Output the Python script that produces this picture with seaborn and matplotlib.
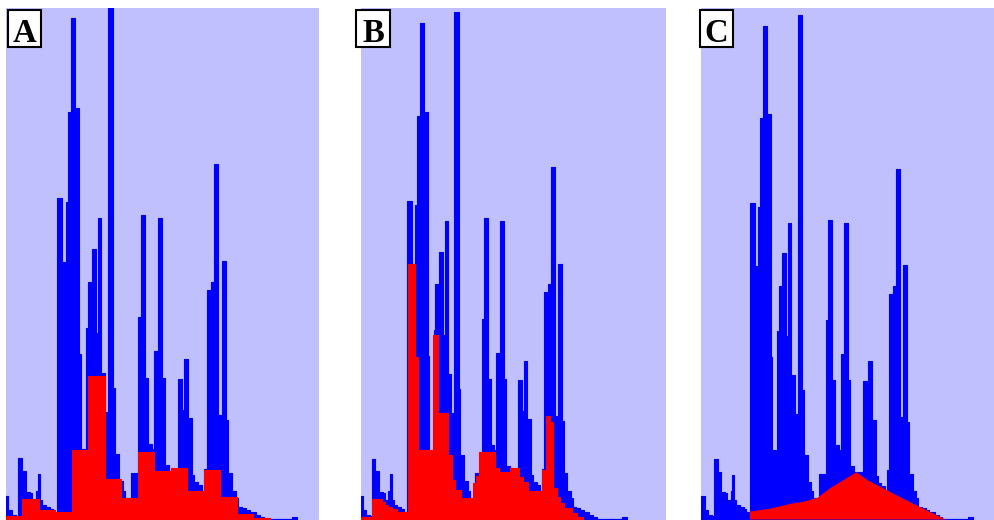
import numpy as np
import pandas as pd
import matplotlib
matplotlib.use("Agg")
import matplotlib.pyplot as plt
import matplotlib.patches as patches
import seaborn as sns

# --- 1. 全局参数 ---
BG_COLOR = '#c0c0ff'
BLUE = '#0000ff'
RED = '#ff0000'
FIG_W, FIG_H, DPI = 995, 520, 100
LABEL_FONT_SIZE = 23.6

# --- 2. 数据 (分箱边界 + 每个分箱高度) ---
blue_edges = [-2, 2, 6, 10, 12, 16, 20, 24, 26, 30, 32, 34, 36, 40, 44, 47, 51,
              56, 59.7, 61.7, 65.3, 69.3, 73, 75, 79.7, 81.7, 85.7, 89.7, 91.7,
              95, 99, 102.3, 107, 109, 113, 117, 119, 125, 132.3, 135, 139,
              142.3, 146.3, 148.3, 152.3, 156.3, 159, 163, 172.3, 176.3, 178.3,
              182.3, 186.3, 188.3, 192.3, 196.3, 198.3, 201, 205, 208, 212, 216,
              220, 222, 226, 230, 232, 236, 240, 244, 250, 254, 258, 285.7, 291.3]
blue_heights = [23, 9, 4, 3, 61, 48, 27, 26, 19, 28, 45, 19, 14, 12, 10, 7,
                321, 257, 317, 407, 501, 411, 165, 70, 191, 237, 270, 186, 301,
                146, 107, 512, 131, 65, 38, 28, 21, 46, 202, 304, 141, 75, 70,
                168, 301, 141, 54, 48, 140, 109, 160, 101, 44, 37, 34, 28, 50,
                229, 237, 355, 104, 258, 99, 46, 28, 21, 12, 11, 9, 7, 4, 2, 0, 2.5]

red_a_edges = [0, 16.5, 33, 49.5, 66, 82.5, 99, 115.5, 132, 148.5, 165, 181.5,
               198, 214.5, 231, 247.5, 264]
red_a_heights = [3, 20, 9, 7, 69, 143, 40, 21, 67, 48, 51, 28, 49, 22, 5, 1]

red_b_edges = [0, 11.9, 23.5, 26.5, 30.1, 34.5, 39.3, 52.0, 59.3, 62.9, 79.3,
               84.1, 95.1, 99.5, 103.1, 109.6, 123.1, 126.1, 129.7, 146.8, 151.5,
               163.3, 173.4, 177.8, 183.3, 197.9, 202.6, 207.0, 210.0, 214.3,
               218.0, 222.3, 230.7, 236.2, 243.4]
red_b_heights = [2, 20, 17, 14, 12, 10, 7, 257, 164, 70, 186, 107, 65, 39, 29,
                 21, 36, 43, 68, 52, 47, 52, 42, 37, 28, 49, 104, 98, 31, 22,
                 16, 11, 6, 2]

red_c_x = [50.1, 50.1, 72.4, 93.9, 107.9, 122.9, 136.9, 151.0, 165.0, 176.8,
           198.3, 219.8, 237.0, 258.5, 261.8]
red_c_h = [0, 8, 11, 16, 18, 22, 32, 40, 48, 40, 29.5, 19, 11, 1, 0]

panel_labels = ['A', 'B', 'C']

# --- 3. 面板布局 (像素) 与坐标范围 ---
PANEL_BOX = [(6, 313), (361, 305), (701, 294)]      # left, width
PANEL_TOP = 8
PANEL_XLIM = [(0, 313), (0.2, 334), (-1.9, 314.6)]
PANEL_YLIM = [(-1, 511), (-1, 516), (-1, 519)]
LABEL_BOX = [(8, 10, 33, 37), (356, 10, 34, 37), (700, 10, 33, 37)]  # x, y, w, h


def draw_hist(ax, edges, heights, color):
    edges = [float(e) for e in edges]
    centers = [(a + b) / 2 for a, b in zip(edges[:-1], edges[1:])]
    df = pd.DataFrame({'x': centers, 'w': [float(h) for h in heights]})
    sns.histplot(data=df, x='x', weights='w', bins=edges, element='step',
                 fill=True, color=color, alpha=1.0, edgecolor=color,
                 linewidth=0.8, ax=ax)


fig = plt.figure(figsize=(FIG_W / DPI, FIG_H / DPI), dpi=DPI)
fig.patch.set_facecolor('white')

axes = []
for (left, width) in PANEL_BOX:
    ax = fig.add_axes([left / FIG_W, 0, width / FIG_W, (FIG_H - PANEL_TOP) / FIG_H])
    ax.set_facecolor(BG_COLOR)
    axes.append(ax)

# --- 4. 绘图 ---
for ax in axes:
    draw_hist(ax, blue_edges, blue_heights, BLUE)

draw_hist(axes[0], red_a_edges, red_a_heights, RED)
draw_hist(axes[1], red_b_edges, red_b_heights, RED)
axes[2].fill_between(red_c_x, red_c_h, color=RED, linewidth=0)

for i, ax in enumerate(axes):
    ax.set_xlim(*PANEL_XLIM[i])
    ax.set_ylim(*PANEL_YLIM[i])
    ax.set_xticks([])
    ax.set_yticks([])
    ax.set_xlabel('')
    ax.set_ylabel('')
    for sp in ax.spines.values():
        sp.set_visible(False)

# --- 5. 面板标签 ---
for label, (bx, by, bw, bh) in zip(panel_labels, LABEL_BOX):
    rect = patches.Rectangle((bx / FIG_W, 1 - (by + bh) / FIG_H), bw / FIG_W, bh / FIG_H,
                             transform=fig.transFigure, facecolor='white',
                             edgecolor='black', linewidth=1.5, zorder=20)
    fig.add_artist(rect)
    fig.text((bx + bw / 2) / FIG_W, 1 - (by + 32.3) / FIG_H, label,
             ha='center', va='baseline', fontsize=LABEL_FONT_SIZE,
             fontweight='bold', family=['Liberation Serif', 'DejaVu Serif'],
             color='black', zorder=21)

fig.savefig('out.png', dpi=DPI, facecolor='white')
